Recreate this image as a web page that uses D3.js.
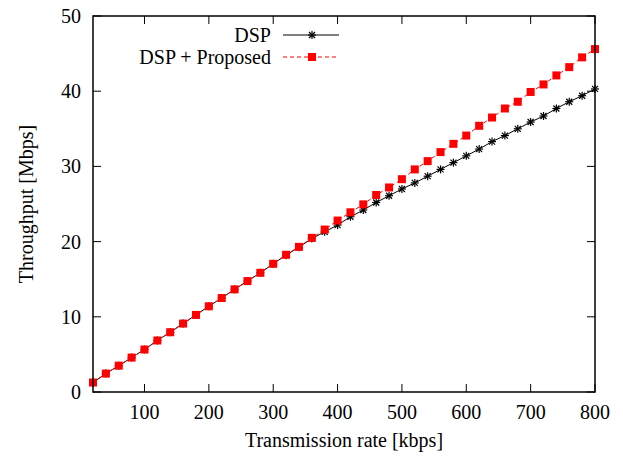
<!DOCTYPE html>
<html><head><meta charset="utf-8">
<script src="https://cdn.jsdelivr.net/npm/d3@7"></script>
<style>html,body{margin:0;padding:0;background:#fff;}svg{display:block;font-family:"Liberation Serif","Times New Roman",serif;}</style>
</head><body>
<svg id="c" width="623" height="456"></svg>
<script>
const rates = [20,40,60,80,100,120,140,160,180,200,220,240,260,280,300,320,340,360,380,400,420,440,460,480,500,520,540,560,580,600,620,640,660,680,700,720,740,760,780,800];
const dsp = [1.26,2.45,3.5,4.58,5.65,6.85,7.95,9.1,10.25,11.4,12.5,13.65,14.75,15.85,17.05,18.2,19.25,20.4,21.3,22.2,23.3,24.2,25.2,26.1,27.0,27.8,28.7,29.6,30.5,31.4,32.3,33.3,34.1,35.0,35.9,36.7,37.7,38.6,39.4,40.3];
const proposed = [1.26,2.45,3.5,4.58,5.65,6.85,7.95,9.1,10.25,11.4,12.5,13.65,14.75,15.85,17.05,18.25,19.3,20.5,21.6,22.8,23.9,24.95,26.2,27.2,28.3,29.6,30.7,31.9,33.0,34.1,35.4,36.5,37.7,38.6,39.9,40.9,42.1,43.2,44.5,45.6];
const xTicks = [100,200,300,400,500,600,700,800];
const yTicks = [0,10,20,30,40,50];
const seriesNames = ["DSP","DSP + Proposed"];
const xTitle = "Transmission rate [kbps]";
const yTitle = "Throughput [Mbps]";

const svg = d3.select("#c");
const L=93, R=595, T=16, B=392;
const x = d3.scaleLinear().domain([20,800]).range([L,R]);
const y = d3.scaleLinear().domain([0,50]).range([B,T]);
const fs = 20;

const tk = 8;
const g = svg.append("g");
xTicks.forEach(v=>{
  g.append("line").attr("x1",x(v)).attr("x2",x(v)).attr("y1",B).attr("y2",B-tk).attr("stroke","#000").attr("stroke-width",1);
  g.append("line").attr("x1",x(v)).attr("x2",x(v)).attr("y1",T).attr("y2",T+tk).attr("stroke","#000").attr("stroke-width",1);
  g.append("text").attr("x",x(v)).attr("y",B+27).attr("text-anchor","middle").attr("font-size",fs).text(v);
});
yTicks.forEach(v=>{
  g.append("line").attr("x1",L).attr("x2",L+tk).attr("y1",y(v)).attr("y2",y(v)).attr("stroke","#000").attr("stroke-width",1);
  g.append("line").attr("x1",R).attr("x2",R-tk).attr("y1",y(v)).attr("y2",y(v)).attr("stroke","#000").attr("stroke-width",1);
  g.append("text").attr("x",L-12).attr("y",y(v)+7).attr("text-anchor","end").attr("font-size",fs).text(v);
});

svg.append("text").attr("x",(L+R)/2).attr("y",447).attr("text-anchor","middle").attr("font-size",fs).text(xTitle);
svg.append("text").attr("transform",`translate(33,${(T+B)/2}) rotate(-90)`).attr("text-anchor","middle").attr("font-size",fs).text(yTitle);

function star(sel, cx, cy, s){
  const p = sel.append("g").attr("stroke","#000").attr("stroke-width",1.2);
  p.append("line").attr("x1",cx-s).attr("x2",cx+s).attr("y1",cy).attr("y2",cy);
  p.append("line").attr("x1",cx).attr("x2",cx).attr("y1",cy-s).attr("y2",cy+s);
  p.append("line").attr("x1",cx-s*0.75).attr("x2",cx+s*0.75).attr("y1",cy-s*0.75).attr("y2",cy+s*0.75);
  p.append("line").attr("x1",cx-s*0.75).attr("x2",cx+s*0.75).attr("y1",cy+s*0.75).attr("y2",cy-s*0.75);
}
function square(sel, cx, cy, s){
  sel.append("rect").attr("x",cx-s).attr("y",cy-s).attr("width",2*s).attr("height",2*s).attr("fill","#f00");
}

const line = d3.line().x((d,i)=>x(rates[i])).y(d=>y(d));
const plot = svg.append("g");
plot.append("path").datum(dsp).attr("d",line).attr("fill","none").attr("stroke","#000").attr("stroke-width",1);
dsp.forEach((v,i)=>star(plot,x(rates[i]),y(v),4));
plot.append("path").datum(proposed).attr("d",line).attr("fill","none").attr("stroke","#f00").attr("stroke-width",1).attr("stroke-dasharray","4,3");
proposed.forEach((v,i)=>square(plot,x(rates[i]),y(v),4));

const lx1=283, lx2=339, lm=312;
const ly=[35,57];
svg.append("text").attr("x",271).attr("y",ly[0]+7).attr("text-anchor","end").attr("font-size",fs).text(seriesNames[0]);
svg.append("line").attr("x1",lx1).attr("x2",lx2).attr("y1",ly[0]).attr("y2",ly[0]).attr("stroke","#000").attr("stroke-width",1);
star(svg,lm,ly[0],4);
svg.append("text").attr("x",271).attr("y",ly[1]+7).attr("text-anchor","end").attr("font-size",fs).text(seriesNames[1]);
svg.append("line").attr("x1",lx1).attr("x2",lx2).attr("y1",ly[1]).attr("y2",ly[1]).attr("stroke","#f00").attr("stroke-width",1).attr("stroke-dasharray","4,3");
square(svg,lm,ly[1],4);

svg.append("rect").attr("x",L).attr("y",T).attr("width",R-L).attr("height",B-T).attr("fill","none").attr("stroke","#000").attr("stroke-width",1.5);
</script>
</body></html>
